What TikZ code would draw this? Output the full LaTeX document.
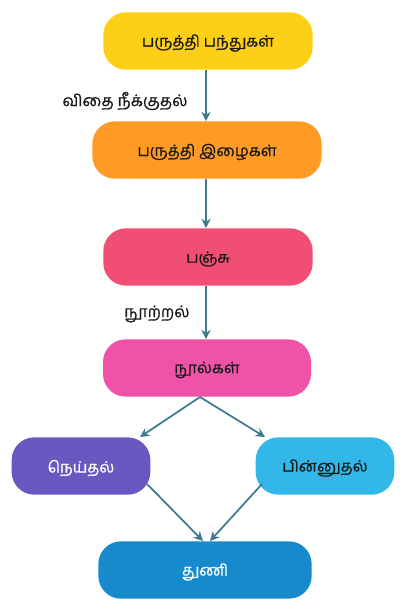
\documentclass[tikz,border=0pt]{standalone}
\usepackage{fontspec}
\newfontfamily\tamil[Script=Tamil,FakeBold=0.6]{Hind Madurai}
\usetikzlibrary{arrows.meta}
\definecolor{cyellow}{HTML}{FDD017}
\definecolor{corange}{HTML}{FF9A24}
\definecolor{cred}{HTML}{F04E72}
\definecolor{cpink}{HTML}{F052A8}
\definecolor{cpurple}{HTML}{6A58C0}
\definecolor{ccyan}{HTML}{33B7E8}
\definecolor{cblue}{HTML}{168ACB}
\definecolor{carrow}{HTML}{3E7A8F}
\definecolor{ctext}{HTML}{1A1A1A}
\begin{document}
\begin{tikzpicture}[x=0.75pt,y=-0.75pt,
  box/.style={rounded corners=17pt, minimum height=43pt, inner sep=0pt, font=\tamil\fontsize{11.7}{13}\selectfont, text=ctext},
  conn/.style={draw=carrow, line width=1.3pt, -{Stealth[length=7pt,width=7pt]}},
  lbl/.style={font=\tamil\fontsize{12}{14}\selectfont, text=ctext}]
\useasboundingbox (0,0) rectangle (408,612);
\node[box, fill=cyellow, minimum width=157pt] (a) at (208,41) {};
\node[box, fill=corange, minimum width=172pt] (b) at (207,150) {};
\node[box, fill=cred, minimum width=157pt] (c) at (208,257) {};
\node[box, fill=cpink, minimum width=156pt] (d) at (207,368) {};
\node[box, fill=cpurple, minimum width=104pt] (e) at (81,466) {};
\node[box, fill=ccyan, minimum width=104pt] (f) at (325,466) {};
\node[box, fill=cblue, minimum width=160pt] (g) at (205,570) {};
\node[box, anchor=center] (ta) at ([yshift=-1.5pt]a.center) {பருத்தி பந்துகள்};
\node[box, anchor=center] (tb) at ([yshift=-1.5pt]b.center) {பருத்தி இழைகள்};
\node[box, anchor=center] (tc) at ([yshift=-1.5pt]c.center) {பஞ்சு};
\node[box, anchor=center] (td) at ([yshift=-1.5pt]d.center) {நூல்கள்};
\node[box, anchor=center, text=white] (te) at ([yshift=-1.5pt]e.center) {நெய்தல்};
\node[box, anchor=center] (tf) at ([yshift=-1.5pt]f.center) {பின்னுதல்};
\node[box, anchor=center, text=white] (tg) at ([yshift=-1.5pt]g.center) {துணி};
\draw[conn] (a.south -| 206,0) -- (b.north -| 206,0);
\draw[conn] (b.south -| 206,0) -- (c.north -| 206,0);
\draw[conn] (c.south -| 206,0) -- (d.north -| 206,0);
\coordinate (dbot) at (200,397);
\coordinate (eTop) at (140,437);
\coordinate (fTop) at (265,437);
\coordinate (eBot) at (147,484);
\coordinate (fBot) at (262,484);
\coordinate (gTopL) at (203,541);
\coordinate (gTopR) at (210,541);
\draw[conn] (dbot) -- (eTop);
\draw[conn] (dbot) -- (fTop);
\draw[conn] (eBot) -- (gTopL);
\draw[conn] (fBot) -- (gTopR);
\node[lbl] (l1) at (125,101) {விதை நீக்குதல்};
\node[lbl] (l2) at (157,314) {நூற்றல்};
\end{tikzpicture}
\end{document}
